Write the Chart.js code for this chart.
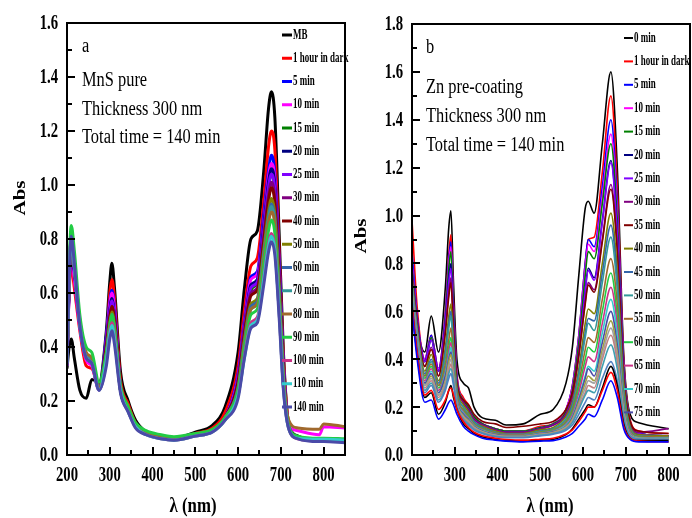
<!DOCTYPE html>
<html>
<head>
<meta charset="utf-8">
<script src="https://cdn.jsdelivr.net/npm/chart.js@4.4.1/dist/chart.umd.min.js"></script>
<style>
  body { margin: 0; background: #fff; width: 692px; height: 518px; position: relative; overflow: hidden; }
  #wa { position: absolute; left: 0; top: 0; }
  #wb { position: absolute; left: 350px; top: 0; }
</style>
</head>
<body>
<div id="wa"><canvas id="chartA" width="360" height="518"></canvas></div>
<div id="wb"><canvas id="chartB" width="342" height="518"></canvas></div>
<script>
// ---- panel a : MnS pure ----
var wlA = [200, 205, 210, 217, 230, 245, 258, 275, 292, 300, 305, 311, 325, 343, 360, 385, 420, 450, 500, 540,
           570, 600, 615, 630, 645, 660, 671, 678, 686, 696, 706, 718, 740, 790, 800, 850];

var a_MB   = [0.32,0.40,0.43,0.36,0.24,0.21,0.28,0.27,0.46,0.64,0.71,0.62,0.31,0.20,0.13,0.085,0.065,0.06,0.085,0.11,0.18,0.38,0.62,0.80,0.83,1.05,1.28,1.345,1.25,0.82,0.38,0.12,0.07,0.055,0.055,0.05];
var a_dark = [0.36,0.60,0.70,0.62,0.46,0.33,0.32,0.25,0.40,0.60,0.65,0.58,0.28,0.19,0.12,0.08,0.062,0.058,0.08,0.10,0.16,0.33,0.54,0.70,0.73,0.94,1.14,1.20,1.13,0.76,0.36,0.12,0.065,0.055,0.055,0.05];
var a_5    = [0.34,0.62,0.76,0.67,0.48,0.36,0.34,0.245,0.44,0.57,0.61,0.55,0.25,0.17,0.11,0.08,0.065,0.058,0.075,0.09,0.14,0.30,0.50,0.66,0.68,0.89,1.05,1.11,1.04,0.72,0.33,0.11,0.065,0.055,0.055,0.05];
var a_10   = [0.33,0.61,0.74,0.65,0.47,0.35,0.33,0.24,0.43,0.56,0.60,0.54,0.25,0.17,0.11,0.08,0.063,0.057,0.075,0.09,0.14,0.29,0.49,0.65,0.67,0.86,1.03,1.08,1.02,0.70,0.33,0.12,0.09,0.075,0.105,0.10];
var a_15   = [0.34,0.64,0.78,0.69,0.49,0.37,0.35,0.25,0.41,0.53,0.57,0.51,0.25,0.17,0.11,0.08,0.065,0.058,0.075,0.09,0.14,0.27,0.46,0.61,0.64,0.83,0.99,1.04,0.98,0.68,0.31,0.11,0.065,0.055,0.055,0.05];
var a_20   = [0.34,0.63,0.77,0.68,0.48,0.36,0.34,0.245,0.42,0.54,0.58,0.52,0.25,0.17,0.11,0.08,0.065,0.058,0.075,0.09,0.14,0.28,0.48,0.63,0.65,0.85,1.01,1.06,1.00,0.69,0.32,0.11,0.065,0.055,0.055,0.05];
var a_25   = [0.34,0.64,0.78,0.69,0.48,0.36,0.34,0.245,0.41,0.53,0.57,0.51,0.25,0.17,0.11,0.08,0.065,0.058,0.075,0.09,0.14,0.28,0.47,0.62,0.64,0.83,0.99,1.04,0.98,0.68,0.31,0.11,0.065,0.055,0.055,0.05];
var a_30   = [0.34,0.65,0.79,0.70,0.49,0.37,0.35,0.25,0.40,0.51,0.55,0.50,0.25,0.17,0.11,0.08,0.065,0.058,0.075,0.09,0.14,0.27,0.46,0.60,0.62,0.81,0.96,1.01,0.95,0.66,0.30,0.11,0.065,0.055,0.055,0.05];
var a_40   = [0.34,0.65,0.79,0.70,0.49,0.37,0.35,0.25,0.40,0.51,0.55,0.50,0.25,0.17,0.11,0.08,0.065,0.058,0.075,0.09,0.14,0.27,0.45,0.59,0.61,0.79,0.94,0.99,0.93,0.64,0.30,0.11,0.065,0.055,0.055,0.05];
var a_50   = [0.34,0.66,0.80,0.70,0.49,0.37,0.35,0.25,0.38,0.49,0.53,0.48,0.24,0.17,0.11,0.08,0.065,0.058,0.075,0.09,0.14,0.25,0.43,0.56,0.58,0.76,0.90,0.95,0.89,0.62,0.29,0.11,0.065,0.055,0.055,0.05];
var a_60   = [0.34,0.66,0.80,0.70,0.49,0.37,0.35,0.25,0.37,0.48,0.52,0.47,0.24,0.17,0.11,0.08,0.065,0.058,0.075,0.09,0.14,0.25,0.42,0.55,0.57,0.74,0.88,0.93,0.87,0.60,0.28,0.11,0.065,0.055,0.055,0.05];
var a_70   = [0.34,0.66,0.80,0.70,0.49,0.37,0.35,0.25,0.37,0.47,0.51,0.46,0.24,0.17,0.11,0.08,0.065,0.058,0.075,0.09,0.14,0.24,0.41,0.54,0.56,0.74,0.87,0.92,0.86,0.60,0.28,0.11,0.065,0.055,0.055,0.05];
var a_80   = [0.35,0.66,0.81,0.71,0.50,0.38,0.36,0.25,0.36,0.47,0.50,0.45,0.24,0.17,0.11,0.08,0.065,0.058,0.075,0.09,0.14,0.24,0.41,0.54,0.56,0.72,0.86,0.90,0.85,0.59,0.29,0.13,0.10,0.095,0.115,0.105];
var a_90   = [0.36,0.70,0.85,0.76,0.52,0.40,0.38,0.27,0.38,0.48,0.52,0.47,0.26,0.18,0.12,0.09,0.075,0.068,0.08,0.095,0.14,0.24,0.40,0.52,0.54,0.70,0.83,0.87,0.82,0.57,0.27,0.11,0.07,0.062,0.062,0.06];
var a_100  = [0.34,0.66,0.80,0.70,0.48,0.36,0.34,0.24,0.35,0.46,0.49,0.44,0.24,0.16,0.105,0.075,0.06,0.055,0.07,0.085,0.13,0.22,0.37,0.49,0.51,0.66,0.78,0.82,0.77,0.53,0.25,0.10,0.06,0.052,0.052,0.048];
var a_110  = [0.34,0.66,0.80,0.70,0.48,0.36,0.34,0.24,0.35,0.45,0.48,0.43,0.24,0.16,0.105,0.075,0.06,0.055,0.07,0.085,0.13,0.22,0.36,0.48,0.50,0.65,0.77,0.81,0.76,0.53,0.25,0.10,0.062,0.058,0.058,0.055];
var a_140  = [0.33,0.66,0.81,0.71,0.48,0.36,0.34,0.24,0.33,0.43,0.46,0.41,0.23,0.16,0.10,0.075,0.06,0.055,0.07,0.085,0.13,0.21,0.36,0.47,0.49,0.63,0.75,0.79,0.74,0.51,0.24,0.10,0.06,0.05,0.05,0.045];

var seriesA = [a_MB, a_dark, a_5, a_10, a_15, a_20, a_25, a_30, a_40, a_50, a_60, a_70, a_80, a_90, a_100, a_110, a_140];
var labelsA = ['MB', '1 hour in dark', '5 min', '10 min', '15 min', '20 min', '25 min', '30 min', '40 min',
               '50 min', '60 min', '70 min', '80 min', '90 min', '100 min', '110 min', '140 min'];

// ---- panel b : Zn pre-coating ----
var wlB = [200, 212, 230, 245, 262, 278, 286, 291, 297, 305, 320, 332, 345, 365, 395, 420, 460, 500, 530, 560,
           575, 590, 605, 612, 626, 645, 665, 680, 695, 710, 730, 800];

var b_0    = [0.78,0.55,0.43,0.58,0.43,0.70,0.95,1.02,0.72,0.40,0.30,0.28,0.20,0.155,0.145,0.125,0.13,0.17,0.19,0.30,0.45,0.75,1.03,1.06,1.01,1.30,1.60,1.20,0.42,0.17,0.135,0.11];
var b_dark = [0.98,0.62,0.40,0.50,0.36,0.60,0.84,0.92,0.64,0.34,0.24,0.21,0.16,0.13,0.11,0.10,0.10,0.12,0.13,0.19,0.29,0.50,0.80,0.90,0.91,1.18,1.50,1.12,0.40,0.15,0.10,0.09];
var b_5    = [0.85,0.58,0.40,0.50,0.36,0.59,0.82,0.89,0.62,0.33,0.23,0.20,0.16,0.13,0.11,0.10,0.10,0.115,0.13,0.19,0.29,0.50,0.80,0.90,0.87,1.12,1.40,1.05,0.38,0.14,0.09,0.08];
var b_10   = [0.80,0.57,0.40,0.49,0.36,0.58,0.80,0.87,0.61,0.33,0.23,0.20,0.16,0.13,0.11,0.10,0.10,0.115,0.13,0.19,0.28,0.49,0.78,0.88,0.85,1.08,1.34,1.01,0.37,0.14,0.09,0.08];
var b_15   = [0.78,0.56,0.39,0.49,0.35,0.57,0.78,0.85,0.60,0.32,0.23,0.20,0.16,0.13,0.11,0.10,0.10,0.115,0.13,0.18,0.27,0.47,0.75,0.85,0.82,1.05,1.30,0.98,0.36,0.14,0.09,0.08];
var b_20   = [0.77,0.56,0.39,0.48,0.35,0.56,0.74,0.80,0.57,0.31,0.22,0.19,0.15,0.125,0.105,0.095,0.095,0.11,0.125,0.17,0.25,0.43,0.69,0.78,0.74,0.98,1.23,0.93,0.34,0.13,0.09,0.08];
var b_25   = [0.76,0.55,0.39,0.48,0.35,0.55,0.72,0.78,0.56,0.31,0.22,0.19,0.15,0.125,0.105,0.095,0.095,0.11,0.125,0.17,0.25,0.43,0.68,0.77,0.73,0.97,1.22,0.92,0.34,0.13,0.09,0.08];
var b_30   = [0.75,0.54,0.37,0.45,0.33,0.52,0.68,0.74,0.53,0.30,0.22,0.19,0.15,0.125,0.105,0.095,0.095,0.11,0.125,0.17,0.24,0.41,0.64,0.72,0.69,0.90,1.13,0.86,0.32,0.13,0.095,0.11];
var b_35   = [0.75,0.54,0.37,0.44,0.33,0.51,0.66,0.72,0.52,0.30,0.23,0.21,0.17,0.14,0.13,0.115,0.12,0.13,0.14,0.19,0.26,0.42,0.63,0.71,0.68,0.89,1.11,0.85,0.32,0.14,0.10,0.09];
var b_40   = [0.74,0.53,0.35,0.42,0.31,0.45,0.58,0.63,0.47,0.28,0.21,0.18,0.14,0.12,0.10,0.09,0.09,0.105,0.115,0.16,0.22,0.36,0.55,0.61,0.59,0.80,1.01,0.77,0.30,0.12,0.085,0.08];
var b_45   = [0.73,0.52,0.34,0.40,0.30,0.43,0.55,0.60,0.45,0.27,0.20,0.17,0.14,0.115,0.095,0.088,0.088,0.10,0.11,0.15,0.21,0.34,0.51,0.57,0.56,0.76,0.96,0.73,0.28,0.115,0.08,0.075];
var b_50   = [0.72,0.52,0.33,0.39,0.29,0.41,0.53,0.58,0.44,0.26,0.20,0.17,0.135,0.112,0.093,0.086,0.086,0.098,0.108,0.15,0.20,0.33,0.49,0.55,0.52,0.72,0.91,0.69,0.27,0.11,0.08,0.075];
var b_55   = [0.72,0.51,0.33,0.38,0.29,0.38,0.48,0.53,0.41,0.25,0.19,0.165,0.13,0.11,0.092,0.085,0.085,0.096,0.105,0.14,0.19,0.30,0.44,0.49,0.47,0.65,0.82,0.63,0.25,0.105,0.078,0.075];
var b_60   = [0.71,0.51,0.32,0.37,0.28,0.36,0.45,0.49,0.39,0.24,0.185,0.16,0.128,0.108,0.09,0.083,0.083,0.094,0.103,0.135,0.18,0.28,0.40,0.45,0.43,0.60,0.76,0.58,0.24,0.10,0.075,0.07];
var b_65   = [0.70,0.50,0.31,0.36,0.27,0.35,0.43,0.47,0.37,0.235,0.18,0.155,0.125,0.105,0.088,0.082,0.082,0.092,0.10,0.13,0.17,0.26,0.37,0.41,0.39,0.55,0.70,0.54,0.22,0.095,0.073,0.07];
var b_70   = [0.70,0.50,0.30,0.35,0.26,0.34,0.41,0.45,0.36,0.23,0.175,0.15,0.122,0.102,0.086,0.08,0.08,0.09,0.098,0.125,0.16,0.24,0.33,0.37,0.35,0.51,0.65,0.50,0.21,0.09,0.072,0.07];
var b_75   = [0.69,0.49,0.30,0.34,0.26,0.33,0.40,0.43,0.35,0.225,0.17,0.148,0.12,0.10,0.085,0.079,0.079,0.089,0.097,0.12,0.155,0.23,0.32,0.36,0.33,0.47,0.60,0.46,0.20,0.088,0.07,0.068];
// curves drawn after 75 min that have no legend entry in the figure
var b_x1   = [0.68,0.49,0.29,0.33,0.25,0.31,0.39,0.42,0.34,0.22,0.165,0.145,0.118,0.098,0.083,0.078,0.078,0.087,0.095,0.118,0.15,0.22,0.30,0.33,0.31,0.44,0.56,0.43,0.19,0.086,0.07,0.068];
var b_x2   = [0.68,0.48,0.29,0.32,0.25,0.30,0.37,0.40,0.33,0.215,0.16,0.14,0.115,0.096,0.082,0.077,0.077,0.086,0.093,0.115,0.145,0.21,0.28,0.31,0.30,0.42,0.53,0.41,0.18,0.085,0.07,0.067];
var b_x3   = [0.67,0.48,0.28,0.31,0.24,0.29,0.35,0.38,0.32,0.21,0.155,0.135,0.112,0.094,0.08,0.076,0.076,0.085,0.092,0.112,0.14,0.20,0.26,0.29,0.28,0.40,0.50,0.39,0.17,0.083,0.068,0.066];
var b_x4   = [0.66,0.47,0.27,0.30,0.23,0.28,0.34,0.36,0.31,0.205,0.15,0.13,0.108,0.092,0.078,0.074,0.074,0.083,0.09,0.108,0.135,0.19,0.25,0.27,0.26,0.37,0.46,0.36,0.16,0.08,0.067,0.065];
var b_x5   = [0.65,0.46,0.26,0.29,0.22,0.27,0.32,0.34,0.29,0.20,0.145,0.125,0.104,0.089,0.076,0.072,0.072,0.08,0.087,0.103,0.125,0.17,0.22,0.24,0.23,0.32,0.39,0.31,0.14,0.077,0.066,0.064];
var b_x6   = [0.62,0.42,0.24,0.26,0.17,0.22,0.27,0.29,0.24,0.19,0.13,0.11,0.09,0.075,0.065,0.06,0.058,0.062,0.065,0.085,0.11,0.15,0.19,0.21,0.20,0.28,0.37,0.29,0.13,0.07,0.06,0.06];
var b_x7   = [0.63,0.43,0.25,0.27,0.19,0.23,0.27,0.28,0.25,0.19,0.14,0.115,0.095,0.08,0.07,0.065,0.062,0.066,0.07,0.088,0.105,0.14,0.18,0.20,0.20,0.27,0.345,0.27,0.12,0.068,0.058,0.055];
var b_x8   = [0.60,0.40,0.22,0.23,0.15,0.19,0.22,0.23,0.21,0.17,0.12,0.10,0.085,0.07,0.062,0.058,0.055,0.058,0.06,0.075,0.09,0.12,0.15,0.17,0.16,0.23,0.31,0.24,0.11,0.065,0.055,0.055];

var seriesB = [b_0, b_dark, b_5, b_10, b_15, b_20, b_25, b_30, b_35, b_40, b_45, b_50, b_55, b_60, b_65, b_70, b_75,
               b_x1, b_x2, b_x3, b_x4, b_x5, b_x6, b_x7, b_x8];
var labelsB = ['0 min', '1 hour in dark', '5 min', '10 min', '15 min', '20 min', '25 min', '30 min', '35 min',
               '40 min', '45 min', '50 min', '55 min', '60 min', '65 min', '70 min', '75 min',
               '', '', '', '', '', '', '', ''];

// Origin style colour list
var palette = ['#000000', '#ff0000', '#0000ff', '#ff00ff', '#008000', '#000080', '#8000ff', '#800080', '#800000',
               '#808000', '#3366aa', '#339999', '#a0692d', '#22cc44', '#cc3388', '#33cccc', '#4a4aa8',
               '#a0a040', '#a0a0a0', '#c08080', '#40a0b0', '#5080c0', '#000000', '#ff0000', '#0000ff'];

var xTicks = [200, 300, 400, 500, 600, 700, 800];
var yTicksA = ['0.0', '0.2', '0.4', '0.6', '0.8', '1.0', '1.2', '1.4', '1.6'];
var yTicksB = ['0.0', '0.2', '0.4', '0.6', '0.8', '1.0', '1.2', '1.4', '1.6', '1.8'];

var notesA = ['a', 'MnS pure', 'Thickness 300 nm', 'Total time = 140 min'];
var notesB = ['b', 'Zn pre-coating', 'Thickness 300 nm', 'Total time = 140 min'];

var SERIF = '"Liberation Serif", "DejaVu Serif", serif';

function squeezed(ctx, s, x, y, font, sx, align) {
	ctx.save();
	ctx.font = font;
	ctx.textAlign = align || 'left';
	ctx.translate(x, y);
	ctx.scale(sx, 1);
	ctx.fillText(s, 0, 0);
	ctx.restore();
}

var framePlugin = {
	id: 'frame',
	afterDatasetsDraw: function(chart, args, o) {
		var ctx = chart.ctx, a = chart.chartArea;
		var xs = chart.scales.x, ys = chart.scales.y;
		ctx.save();
		ctx.fillStyle = '#000';
		ctx.strokeStyle = '#000';
		ctx.lineWidth = 2;
		ctx.strokeRect(a.left, a.top, a.right - a.left, a.bottom - a.top);

		// inward ticks, major + minor
		ctx.beginPath();
		for (var v = 200; v <= 850; v += 50) {
			var px = Math.round(xs.getPixelForValue(v));
			ctx.moveTo(px, a.bottom);
			ctx.lineTo(px, a.bottom - (v % 100 === 0 ? 8 : 5));
		}
		for (var i = 0; i <= o.ymax * 10; i++) {
			var py = Math.round(ys.getPixelForValue(i / 10));
			ctx.moveTo(a.left, py);
			ctx.lineTo(a.left + (i % 2 === 0 ? 8 : 5), py);
		}
		ctx.stroke();

		// tick labels
		ctx.textBaseline = 'middle';
		var tf = 'bold 21px ' + SERIF;
		xTicks.forEach(function(t) {
			squeezed(ctx, String(t), xs.getPixelForValue(t), a.bottom + 21, tf, 0.7, 'center');
		});
		o.yTicks.forEach(function(t) {
			squeezed(ctx, t, a.left - 9, ys.getPixelForValue(parseFloat(t)) + 1, tf, 0.7, 'right');
		});

		// axis titles
		ctx.save();
		ctx.font = 'bold 21px ' + SERIF;
		ctx.textAlign = 'center';
		ctx.textBaseline = 'middle';
		ctx.translate(o.absX, o.absY);
		ctx.rotate(-Math.PI / 2);
		ctx.scale(1, 0.82);
		ctx.fillText('Abs', 0, 0);
		ctx.restore();
		ctx.textBaseline = 'alphabetic';
		squeezed(ctx, 'λ (nm)', o.lamX, 512, 'bold 21px ' + SERIF, 0.8, 'center');

		// notes in the upper left corner
		o.notes.forEach(function(s, k) {
			squeezed(ctx, s, o.noteX, o.noteY[k], '20px ' + SERIF, 0.82, 'left');
		});

		// legend
		ctx.textBaseline = 'middle';
		chart.data.datasets.forEach(function(ds, k) {
			if (!ds.label) return;
			var ly = o.legY + k * o.legStep;
			ctx.strokeStyle = ds.borderColor;
			ctx.lineWidth = o.legLW;
			ctx.beginPath();
			ctx.moveTo(o.legX, ly);
			ctx.lineTo(o.legX + o.legLen, ly);
			ctx.stroke();
			squeezed(ctx, ds.label, o.legX + o.legLen + 1, ly, 'bold 14px ' + SERIF, 0.64, 'left');
		});
		ctx.restore();
	}
};

function makeChart(id, wl, series, labels, cfg) {
	var datasets = series.map(function(vals, i) {
		return {
			label: labels[i],
			data: vals.map(function(v, j) { return { x: wl[j], y: v }; }),
			borderColor: palette[i],
			borderWidth: cfg.lw,
			pointRadius: 0,
			fill: false,
			cubicInterpolationMode: 'monotone',
			order: -i
		};
	});
	return new Chart(document.getElementById(id), {
		type: 'line',
		data: { datasets: datasets },
		plugins: [framePlugin],
		options: {
			responsive: false,
			animation: false,
			devicePixelRatio: 1,
			layout: { padding: cfg.pad },
			plugins: {
				legend: { display: false },
				tooltip: { enabled: false },
				frame: cfg.frame
			},
			scales: {
				x: {
					type: 'linear', min: 200, max: 850,
					ticks: { display: false }, grid: { display: false }, border: { display: false },
					afterFit: function(s) { s.height = cfg.xh; }
				},
				y: {
					min: 0, max: cfg.frame.ymax,
					ticks: { display: false }, grid: { display: false }, border: { display: false },
					afterFit: function(s) { s.width = cfg.yw; }
				}
			}
		}
	});
}

makeChart('chartA', wlA, seriesA, labelsA, {
	lw: 3, xh: 63, yw: 67,
	pad: { left: 0, top: 23, right: 15, bottom: 0 },
	frame: {
		ymax: 1.6, yTicks: yTicksA,
		absX: 21, absY: 198, lamX: 193,
		notes: notesA, noteX: 82, noteY: [52, 86, 115, 143],
		legX: 282, legY: 35, legStep: 23.25, legLen: 10, legLW: 3
	}
});

makeChart('chartB', wlB, seriesB, labelsB, {
	lw: 1.6, xh: 63, yw: 62,
	pad: { left: 0, top: 24, right: 2, bottom: 0 },
	frame: {
		ymax: 1.8, yTicks: yTicksB,
		absX: 12, absY: 236, lamX: 200,
		notes: notesB, noteX: 76, noteY: [53, 93, 122, 151],
		legX: 274, legY: 38, legStep: 23.4, legLen: 9, legLW: 2
	}
});
</script>
</body>
</html>
